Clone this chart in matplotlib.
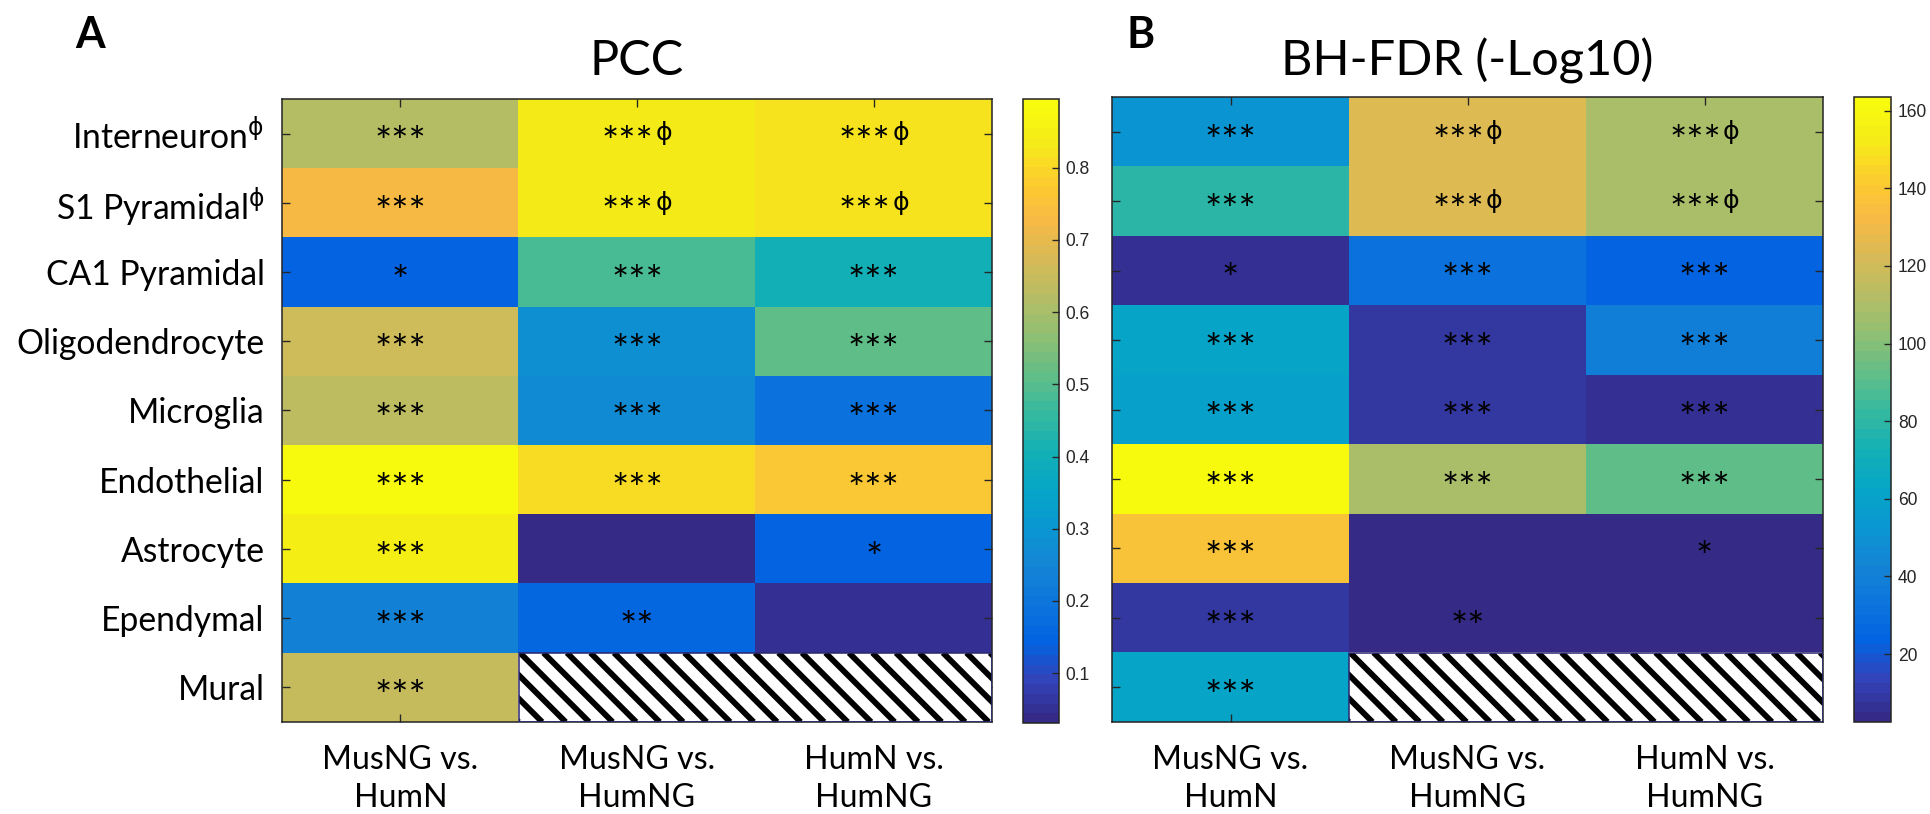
# -*- coding: utf-8 -*-
#------------------------------------------------------------------------------
# Import libraries

import numpy as np
import matplotlib
matplotlib.use('Agg')
import matplotlib.pyplot as plt
from matplotlib.colors import LinearSegmentedColormap
from matplotlib.patches import Rectangle
from matplotlib.ticker import MultipleLocator

#------------------------------------------------------------------------------
# Data

cell_types = ['Interneuron', 'S1 Pyramidal', 'CA1 Pyramidal', 'Oligodendrocyte',
              'Microglia', 'Endothelial', 'Astrocyte', 'Ependymal', 'Mural']
phi_rows = ['Interneuron', 'S1 Pyramidal']
comparisons = ['MusNG vs.\nHumN', 'MusNG vs.\nHumNG', 'HumN vs.\nHumNG']

nan = np.nan
pcc_values = [
    [0.62, 0.83, 0.815],
    [0.73, 0.84, 0.825],
    [0.15, 0.48, 0.40],
    [0.66, 0.28, 0.51],
    [0.63, 0.27, 0.19],
    [0.895, 0.81, 0.76],
    [0.85, 0.031, 0.15],
    [0.24, 0.155, 0.05],
    [0.645, nan, nan],
]

fdr_values = [
    [52, 125, 110],
    [80, 125, 110],
    [6, 31, 25],
    [62, 10, 40],
    [60, 10, 6],
    [163.5, 110, 93],
    [136, 2.5, 2.5],
    [10, 3, 3],
    [62, nan, nan],
]

stars = [
    ['***', '***ϕ', '***ϕ'],
    ['***', '***ϕ', '***ϕ'],
    ['*', '***', '***'],
    ['***', '***', '***'],
    ['***', '***', '***'],
    ['***', '***', '***'],
    ['***', '', '*'],
    ['***', '**', ''],
    ['***', '', ''],
]

#------------------------------------------------------------------------------
# Style

DPI = 140
W, H = 1930, 814
FRAME = '#262626'
HATCH_STEP = 23.5   # px between stripes, measured along x
STAR_SIZE = 21
PHI_SIZE = 13

# MATLAB parula (sampled)
PARULA = [
    (0.2081, 0.1663, 0.5292), (0.1959, 0.2645, 0.7279), (0.0117, 0.3875, 0.8820),
    (0.0498, 0.4586, 0.8641), (0.0793, 0.5200, 0.8312), (0.0343, 0.5966, 0.8199),
    (0.0228, 0.6535, 0.7768), (0.0843, 0.6928, 0.7062), (0.2178, 0.7250, 0.6193),
    (0.3953, 0.7459, 0.5244), (0.5709, 0.7485, 0.4494), (0.7184, 0.7411, 0.3905),
    (0.8507, 0.7299, 0.3360), (0.9739, 0.7314, 0.2666), (0.9880, 0.8066, 0.1794),
    (0.9598, 0.9218, 0.0948), (0.9763, 0.9831, 0.0538),
]
parula = LinearSegmentedColormap.from_list('parula', PARULA, N=64)

plt.rcParams['font.family'] = ['Lato', 'DejaVu Sans']
plt.rcParams['mathtext.fontset'] = 'custom'
plt.rcParams['mathtext.rm'] = 'DejaVu Sans'
plt.rcParams['mathtext.it'] = 'DejaVu Sans'

#------------------------------------------------------------------------------

def px(x0, y0, x1, y1):
    # pixel box -> figure fraction [left, bottom, width, height]
    return [x0 / W, 1 - y1 / H, (x1 - x0) / W, (y1 - y0) / H]


def hatch_block(ax, x0, y0, w, h, cw, ch):
    # white block with thick "\" stripes at 45 deg on screen
    clip = Rectangle((x0, y0), w, h, facecolor='white', edgecolor='none', zorder=2)
    ax.add_patch(clip)
    run = h * ch / cw          # x shift of a stripe over the block height
    step = HATCH_STEP / cw
    for xs in np.arange(x0 - run, x0 + w + step, step):
        line, = ax.plot([xs, xs + run], [y0, y0 + h], color='black',
                        lw=3.0, solid_capstyle='butt', zorder=3)
        line.set_clip_path(clip)
    ax.add_patch(Rectangle((x0, y0), w, h, facecolor='none',
                           edgecolor='#2a2870', linewidth=0.8, zorder=4))


def cell_label(ax, renderer, c, r, label):
    # asterisks centred on the cell, optional small phi right after them
    base = label.rstrip('ϕ')
    dy = -0.56 * STAR_SIZE
    t1 = ax.annotate(base, (c, r), xytext=(0, dy), textcoords='offset points',
                     ha='left', va='baseline', fontsize=STAR_SIZE, zorder=5)
    if base == label:
        t1.set_ha('center')
        return
    t2 = ax.annotate('ϕ', (c, r), xytext=(0, -0.27 * PHI_SIZE),
                     textcoords='offset points', ha='left', va='baseline',
                     fontsize=PHI_SIZE, family='DejaVu Sans', zorder=5)
    k = 72.0 / DPI
    ws = t1.get_window_extent(renderer).width * k
    wp = t2.get_window_extent(renderer).width * k
    gap = 1.0
    start = -(ws + gap + wp) / 2
    t1.xyann = (start, dy)
    t2.xyann = (start + ws + gap, -0.27 * PHI_SIZE)


def draw_panel(fig, box, cbox, values, title, letter, letter_x, tick_step,
               show_labels):
    data = np.array(values, dtype=float)
    nrows, ncols = data.shape
    masked = np.ma.masked_invalid(data)
    ax = fig.add_axes(px(*box))
    im = ax.imshow(masked, cmap=parula, aspect='auto', interpolation='nearest',
                   vmin=np.nanmin(data), vmax=np.nanmax(data))

    cw = (box[2] - box[0]) / ncols
    ch = (box[3] - box[1]) / nrows
    for r in range(nrows):
        cols = np.where(np.isnan(data[r]))[0]
        if len(cols):
            hatch_block(ax, cols[0] - 0.5, r - 0.5, len(cols), 1, cw, ch)

    renderer = fig.canvas.get_renderer()
    for r in range(nrows):
        for c in range(ncols):
            if stars[r][c]:
                cell_label(ax, renderer, c, r, stars[r][c])

    ax.set_xlim(-0.5, ncols - 0.5)
    ax.set_ylim(nrows - 0.5, -0.5)
    ax.set_xticks(range(ncols))
    ax.set_xticklabels(comparisons, fontsize=16.5, linespacing=1.3)
    ylabels = [t + r'$^{\phi}$' if t in phi_rows else t for t in cell_types]
    ax.set_yticks(range(nrows))
    ax.set_yticklabels(ylabels, fontsize=17.3)
    ax.tick_params(direction='in', length=4, width=0.7, color=FRAME,
                   top=True, right=True, pad=9)
    ax.tick_params(axis='x', pad=12)
    if not show_labels:
        ax.tick_params(axis='y', labelleft=False)
    for s in ax.spines.values():
        s.set_color(FRAME)
        s.set_linewidth(0.8)

    cax = fig.add_axes(px(*cbox))
    cb = fig.colorbar(im, cax=cax)
    cb.outline.set_edgecolor(FRAME)
    cb.outline.set_linewidth(0.8)
    cb.ax.yaxis.set_major_locator(MultipleLocator(tick_step))
    cb.ax.tick_params(direction='in', length=3.5, width=0.7, color=FRAME,
                      labelsize=9, labelcolor=FRAME, pad=3.5)
    for t in cb.ax.get_yticklabels():
        t.set_family('Liberation Sans')

    cx = (box[0] + box[2]) / 2 / W
    fig.text(cx, 1 - 75 / H, title, ha='center', va='baseline', fontsize=25)
    fig.text(letter_x / W, 1 - 48 / H, letter, ha='left', va='baseline',
             fontsize=22, fontweight='bold')

#------------------------------------------------------------------------------
# Main method

def main():
    fig = plt.figure(figsize=(W / DPI, H / DPI), dpi=DPI)
    draw_panel(fig, (282, 99, 992, 722), (1023, 99, 1059, 723),
               pcc_values, 'PCC', 'A', 75, 0.1, True)
    draw_panel(fig, (1112, 97, 1823, 722), (1854, 97, 1891, 722),
               fdr_values, 'BH-FDR (-Log10)', 'B', 1127, 20, False)
    fig.savefig('out.png', dpi=DPI)

#------------------------------------------------------------------------------

if __name__ == "__main__":
    main()
